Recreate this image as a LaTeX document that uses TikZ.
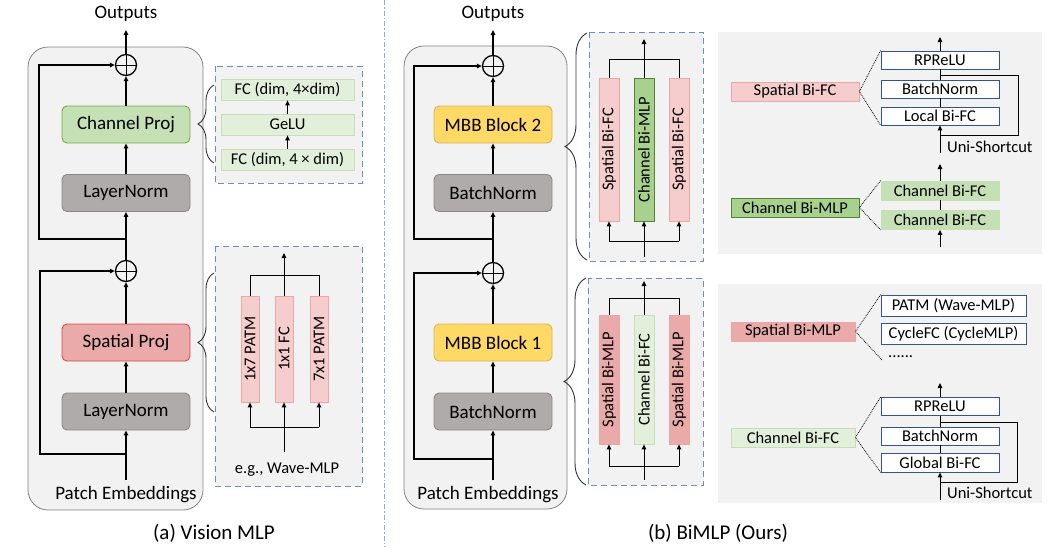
\documentclass[tikz,border=0pt]{standalone}
\usepackage{fontspec}
\setmainfont{Carlito}
\usetikzlibrary{arrows.meta,decorations.pathreplacing,calc}
\definecolor{panelgray}{RGB}{242,242,242}
\definecolor{paneledge}{RGB}{130,130,130}
\definecolor{gfill}{RGB}{197,224,180}
\definecolor{gedge}{RGB}{112,173,71}
\definecolor{nfill}{RGB}{175,171,171}
\definecolor{nedge}{RGB}{140,136,136}
\definecolor{rfill}{RGB}{234,170,170}
\definecolor{redge}{RGB}{222,70,70}
\definecolor{yfill}{RGB}{255,217,102}
\definecolor{yedge}{RGB}{214,182,86}
\definecolor{dashedge}{RGB}{108,142,191}
\definecolor{lgfill}{RGB}{226,239,218}
\definecolor{lgedge}{RGB}{197,224,180}
\definecolor{pfill}{RGB}{245,205,205}
\definecolor{pedge}{RGB}{238,165,165}
\definecolor{dgfill}{RGB}{169,209,142}
\definecolor{dgedge}{RGB}{84,130,53}
\definecolor{bedge}{RGB}{47,85,151}
\definecolor{divider}{RGB}{143,170,220}
\tikzset{
  arr/.style={-{Triangle[length=5pt,width=4.5pt]}},
  mainline/.style={line width=1.4pt},
  thinline/.style={line width=0.9pt},
  bigbox/.style={rectangle, rounded corners=5pt, line width=0.9pt, minimum width=128pt, minimum height=37pt, inner sep=0pt, font=\fontsize{19}{22}\selectfont},
  greenbox/.style={bigbox, fill=gfill, draw=gedge},
  graybox/.style={bigbox, fill=nfill, draw=nedge},
  redbox/.style={bigbox, fill=rfill, draw=redge},
  yellowbox/.style={bigbox, fill=yfill, draw=yedge, minimum width=118pt},
  graybox2/.style={graybox, minimum width=118pt},
  plusnode/.style={circle, draw, line width=1.3pt, minimum size=21pt, inner sep=0pt,
    path picture={\draw[line width=1pt] (path picture bounding box.north) -- (path picture bounding box.south) (path picture bounding box.west) -- (path picture bounding box.east);}},
  dashbox/.style={fill=panelgray, draw=dashedge, line width=0.9pt, dash pattern=on 6pt off 4pt},
  smallfont/.style={font=\fontsize{16.5}{19}\selectfont},
  fcbox/.style={rectangle, fill=lgfill, draw=lgedge, line width=0.8pt, minimum width=133pt, minimum height=21pt, inner sep=0pt, smallfont},
  bar/.style={rectangle, line width=0.8pt, inner sep=0pt, rotate=90, smallfont},
  pinkbar/.style={bar, fill=pfill, draw=pedge},
  redbar/.style={bar, fill=rfill, draw=pedge},
  dgbar/.style={bar, fill=dgfill, draw=dgedge},
  lgbar/.style={bar, fill=lgfill, draw=lgedge},
  wbox/.style={rectangle, fill=white, draw=bedge, line width=0.8pt, minimum width=118pt, minimum height=18pt, inner sep=0pt, smallfont},
  tagbox/.style={rectangle, line width=0.8pt, minimum width=128pt, minimum height=19pt, inner sep=0pt, smallfont},
  dotln/.style={densely dotted, line width=0.8pt},
  brc/.style={decorate, line width=0.9pt, draw=black!80},
  lbl/.style={font=\fontsize{19}{22}\selectfont, inner sep=0pt},
}
\begin{document}
\begin{tikzpicture}[x=1pt,y=-1pt]
\useasboundingbox (0,0) rectangle (1058,547);
% ================= (a) Vision MLP =================
\draw[fill=panelgray, draw=paneledge, line width=0.8pt, rounded corners=20pt] (28,47) rectangle (203,510);
\node[lbl] (outA) at (126,14) {Outputs};
\coordinate (oA) at (126,30);
\node[plusnode] (plusA2) at (126,65) {};
\node[greenbox] (chA) at (126,124.5) {Channel Proj};
\node[graybox] (lnA2) at (126,193) {LayerNorm};
\node[plusnode] (plusA1) at (126,271) {};
\node[redbox] (spA) at (126,342.5) {Spatial Proj};
\node[graybox] (lnA1) at (126,411.5) {LayerNorm};
\node[lbl] (peA) at (126,495) {Patch Embeddings};
\coordinate (inA) at (126,480);
\coordinate (sA1) at (126,454);
\coordinate (kA1) at (40,454);
\coordinate (sA2) at (126,239);
\coordinate (kA2) at (39,239);
\draw[mainline,arr] (inA) -- (lnA1.south);
\draw[mainline,arr] (lnA1) -- (spA);
\draw[mainline,arr] (spA) -- (plusA1);
\draw[mainline,arr] (plusA1) -- (lnA2);
\draw[mainline,arr] (lnA2) -- (chA);
\draw[mainline,arr] (chA) -- (plusA2);
\draw[mainline,arr] (plusA2) -- (oA);
\draw[mainline,arr] (sA1) -- (kA1) |- (plusA1.west);
\draw[mainline,arr] (sA2) -- (kA2) |- (plusA2.west);
% top dashed box
\draw[dashbox] (215,66) rectangle (362,183);
\node[fcbox] (fc1) at (287.5,89.5) {FC (dim, 4×dim)};
\node[fcbox] (gelu) at (287.5,124.5) {GeLU};
\node[fcbox] (fc2) at (287.5,159.5) {FC (dim, 4 × dim)};
\draw[thinline,arr] (fc2) -- (gelu);
\draw[thinline,arr] (gelu) -- (fc1);
\draw[brc, decoration={brace,amplitude=16pt}] (214,163) -- (214,85);
% bottom dashed box
\draw[dashbox] (215,246) rectangle (362,486);
\node[pinkbar, minimum width=106pt, minimum height=18pt] (b1) at (250,349) {1x7 PATM};
\node[pinkbar, minimum width=106pt, minimum height=18pt] (b2) at (284,349) {1x1 FC};
\node[pinkbar, minimum width=106pt, minimum height=18pt] (b3) at (319,349) {7x1 PATM};
\coordinate (hA1) at (250,275);
\coordinate (hA3) at (319,275);
\coordinate (oA2) at (284,253);
\coordinate (gA1) at (250,427);
\coordinate (gA3) at (319,427);
\coordinate (inA2) at (284,452);
\draw[thinline] (b1.east) -- (hA1) -- (hA3) -- (b3.east);
\draw[thinline,arr] (b2.east) -- (oA2);
\draw[thinline] (gA1) -- (gA3);
\draw[thinline,arr] (gA1) -- (b1.west);
\draw[thinline,arr] (gA3) -- (b3.west);
\draw[thinline,arr] (inA2) -- (b2.west);
\node[smallfont, inner sep=0pt] (egA) at (287,470) {e.g., Wave-MLP};
\draw[brc, decoration={brace,amplitude=16pt}] (214,412) -- (214,273);
\node[font=\fontsize{21}{24}\selectfont, inner sep=0pt] (capA) at (214,533) {(a) Vision MLP};
% divider
\draw[divider, line width=1pt, dash pattern=on 5pt off 2pt on 1.5pt off 2pt] (384,0) -- (384,547);
% ================= (b) BiMLP =================
\draw[fill=panelgray, draw=paneledge, line width=0.8pt, rounded corners=20pt] (404,46) rectangle (567,509);
\node[lbl] (outB) at (493,14) {Outputs};
\coordinate (oB) at (493,30);
\node[plusnode] (plusB2) at (493,66) {};
\node[yellowbox] (mbb2) at (493,124.5) {MBB Block 2};
\node[graybox2] (bnB2) at (493,193) {BatchNorm};
\node[plusnode] (plusB1) at (493,273) {};
\node[yellowbox] (mbb1) at (493,342.5) {MBB Block 1};
\node[graybox2] (bnB1) at (493,411.5) {BatchNorm};
\node[lbl] (peB) at (488,495) {Patch Embeddings};
\coordinate (inB) at (493,480);
\coordinate (sB1) at (493,459);
\coordinate (kB1) at (414,459);
\coordinate (sB2) at (493,239);
\coordinate (kB2) at (414,239);
\draw[mainline,arr] (inB) -- (bnB1.south);
\draw[mainline,arr] (bnB1) -- (mbb1);
\draw[mainline,arr] (mbb1) -- (plusB1);
\draw[mainline,arr] (plusB1) -- (bnB2);
\draw[mainline,arr] (bnB2) -- (mbb2);
\draw[mainline,arr] (mbb2) -- (plusB2);
\draw[mainline,arr] (plusB2) -- (oB);
\draw[mainline,arr] (sB1) -- (kB1) |- (plusB1.west);
\draw[mainline,arr] (sB2) -- (kB2) |- (plusB2.west);
% middle top dashed box
\draw[dashbox] (589,32) rectangle (703,261);
\node[pinkbar, minimum width=143pt, minimum height=20pt] (c1) at (609,149.5) {Spatial Bi-FC};
\node[dgbar, minimum width=143pt, minimum height=20pt] (c2) at (644,149.5) {Channel Bi-MLP};
\node[pinkbar, minimum width=143pt, minimum height=20pt] (c3) at (679,149.5) {Spatial Bi-FC};
\coordinate (hC1) at (609,59);
\coordinate (hC3) at (679,59);
\coordinate (oC) at (644,39);
\coordinate (gC1) at (609,241);
\coordinate (gC3) at (679,241);
\coordinate (inC) at (644,257);
\draw[thinline] (c1.east) -- (hC1) -- (hC3) -- (c3.east);
\draw[thinline,arr] (c2.east) -- (oC);
\draw[thinline] (gC1) -- (gC3);
\draw[thinline,arr] (gC1) -- (c1.west);
\draw[thinline,arr] (gC3) -- (c3.west);
\draw[thinline,arr] (inC) -- (c2.west);
\draw[brc, decoration={brace,amplitude=22pt}] (587,260) -- (587,33);
% middle bottom dashed box
\draw[dashbox] (588,278) rectangle (703,485);
\node[redbar, minimum width=129pt, minimum height=20pt] (d1) at (609,379.5) {Spatial Bi-MLP};
\node[lgbar, minimum width=129pt, minimum height=20pt] (d2) at (644,379.5) {Channel Bi-FC};
\node[redbar, minimum width=129pt, minimum height=20pt] (d3) at (679,379.5) {Spatial Bi-MLP};
\coordinate (hD1) at (609,298);
\coordinate (hD3) at (679,298);
\coordinate (oD) at (644,281);
\coordinate (gD1) at (609,466);
\coordinate (gD3) at (679,466);
\coordinate (inD) at (644,480);
\draw[thinline] (d1.east) -- (hD1) -- (hD3) -- (d3.east);
\draw[thinline,arr] (d2.east) -- (oD);
\draw[thinline] (gD1) -- (gD3);
\draw[thinline,arr] (gD1) -- (d1.west);
\draw[thinline,arr] (gD3) -- (d3.west);
\draw[thinline,arr] (inD) -- (d2.west);
\draw[brc, decoration={brace,amplitude=22pt}] (586,485) -- (586,278);
\node[font=\fontsize{21}{24}\selectfont, inner sep=0pt] (capB) at (718,533) {(b) BiMLP (Ours)};
% ================= right top =================
\fill[panelgray] (718,32) rectangle (1042,254);
\node[tagbox, fill=pfill, draw=pedge] (sbfc) at (795,91.5) {Spatial Bi-FC};
\node[wbox] (rp1) at (940,60) {RPReLU};
\node[wbox] (bn1) at (940,89) {BatchNorm};
\node[wbox] (lb1) at (940,116) {Local Bi-FC};
\coordinate (in1) at (940,153);
\coordinate (out1) at (940,37);
\coordinate (s1a) at (940,135);
\coordinate (s1b) at (1018,135);
\coordinate (s1c) at (1018,75);
\coordinate (s1d) at (940,75);
\draw[thinline,arr] (in1) -- (lb1.south);
\draw[thinline] (lb1) -- (bn1) (bn1) -- (rp1);
\draw[thinline,arr] (rp1.north) -- (out1);
\draw[thinline] (s1a) -- (s1b) -- (s1c) -- (s1d);
\node[smallfont, inner sep=0pt, anchor=west] (us1) at (947,147) {Uni-Shortcut};
\draw[dotln] (rp1.north west) -- (sbfc.east) -- (lb1.south west);
\node[tagbox, fill=dgfill, draw=dgedge] (cbmlp) at (795,207.5) {Channel Bi-MLP};
\node[wbox, fill=gfill, draw=lgedge, minimum height=19pt] (cf1) at (940,190.5) {Channel Bi-FC};
\node[wbox, fill=gfill, draw=lgedge, minimum height=19pt] (cf2) at (940,220) {Channel Bi-FC};
\coordinate (in2) at (940,247);
\coordinate (out2) at (940,164);
\draw[thinline,arr] (in2) -- (cf2.south);
\draw[thinline] (cf2) -- (cf1);
\draw[thinline,arr] (cf1.north) -- (out2);
\draw[dotln] (cf1.north west) -- (cbmlp.east) -- (cf2.south west);
% ================= right bottom =================
\fill[panelgray] (718,284) rectangle (1042,503);
\node[tagbox, fill=rfill, draw=pedge, minimum width=124pt] (sbmlp) at (793,331.5) {Spatial Bi-MLP};
\node[wbox, minimum width=145pt, minimum height=21pt] (patm) at (953.5,305.5) {PATM (Wave-MLP)};
\node[wbox, minimum width=145pt, minimum height=21pt] (cyc) at (953.5,333.5) {CycleFC (CycleMLP)};
\node[smallfont, inner sep=0pt, anchor=west] (dots) at (888,357) {......};
\coordinate (dl) at (882,360);
\draw[dotln] (patm.north west) -- (sbmlp.east) -- (dl);
\node[tagbox, fill=lgfill, draw=lgedge, minimum width=124pt] (cbfc) at (793,437.5) {Channel Bi-FC};
\node[wbox] (rp2) at (940,406.5) {RPReLU};
\node[wbox] (bn2) at (940,436) {BatchNorm};
\node[wbox, minimum height=19pt] (gb2) at (940,462.5) {Global Bi-FC};
\coordinate (in3) at (940,500);
\coordinate (out3) at (940,383);
\coordinate (s3a) at (940,482);
\coordinate (s3b) at (1017,482);
\coordinate (s3c) at (1017,422);
\coordinate (s3d) at (940,422);
\draw[thinline,arr] (in3) -- (gb2.south);
\draw[thinline] (gb2) -- (bn2) (bn2) -- (rp2);
\draw[thinline,arr] (rp2.north) -- (out3);
\draw[thinline] (s3a) -- (s3b) -- (s3c) -- (s3d);
\node[smallfont, inner sep=0pt, anchor=west] (us3) at (947,493) {Uni-Shortcut};
\draw[dotln] (rp2.north west) -- (cbfc.east) -- (gb2.south west);
\end{tikzpicture}
\end{document}
